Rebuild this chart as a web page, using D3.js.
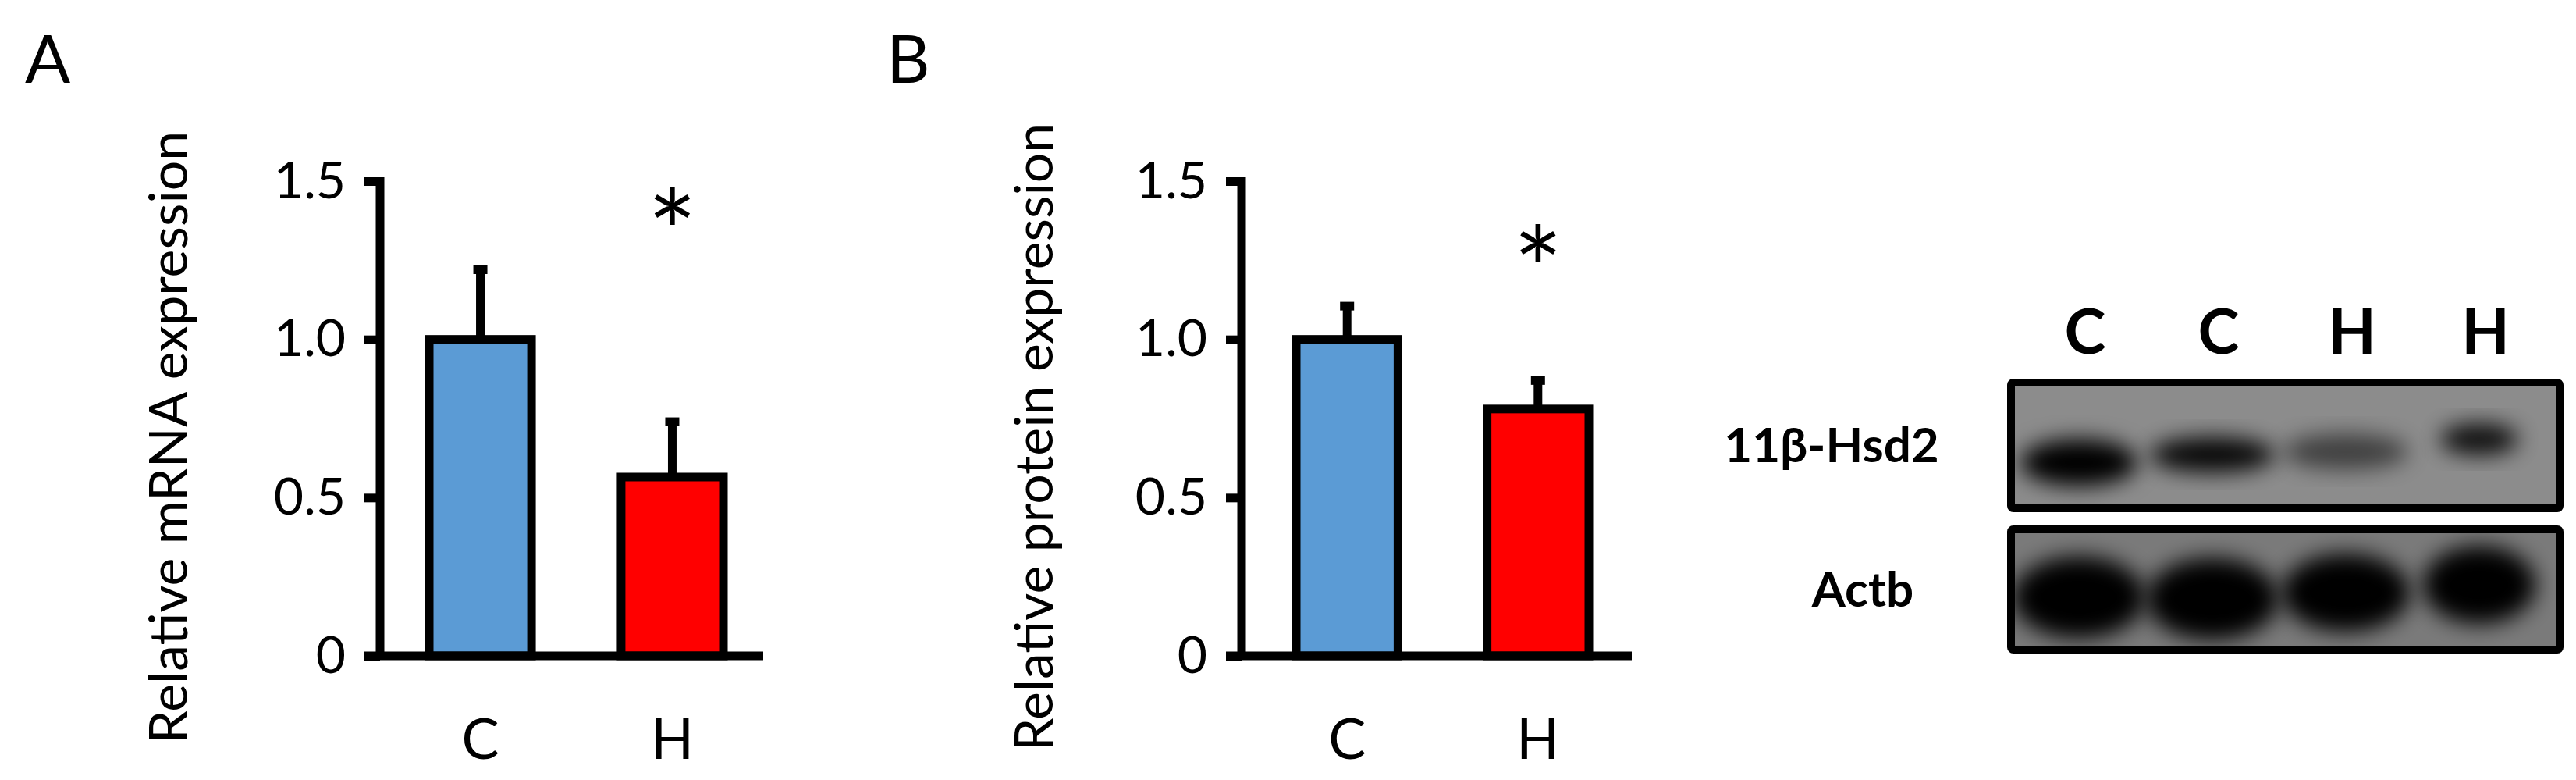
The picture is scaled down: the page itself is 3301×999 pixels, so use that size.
<!DOCTYPE html>
<html><head><meta charset="utf-8">
<script src="https://cdn.jsdelivr.net/npm/d3@7"></script>
<style>body{margin:0;background:#fff}text{font-family:Lato,"Open Sans",sans-serif}</style>
</head><body>
<svg id="c" width="3301" height="999"></svg>
<script>
var categories = ["C", "H"];
var mrnaMean = [1.0, 0.565];
var mrnaErr = [0.22, 0.175];
var proteinMean = [1.0, 0.78];
var proteinErr = [0.105, 0.09];
var significant = [false, true];
var yTicks = [0, 0.5, 1.0, 1.5];
var tickLabels = ["0", "0.5", "1.0", "1.5"];
var barColors = ["#5b9bd5", "#ff0000"];
var laneLabels = ["C", "C", "H", "H"];
// band darkness / size
var hsdBands = [{dy: 22, w: 150, h: 60, o: 1.0}, {dy: 12, w: 160, h: 45, o: 0.95}, {dy: 8, w: 160, h: 45, o: 0.55}, {dy: -8, w: 100, h: 40, o: 0.9}];
var actbBands = [{dy: 10, w: 170, h: 105, o: 1}, {dy: 12, w: 170, h: 105, o: 1}, {dy: 4, w: 165, h: 100, o: 1}, {dy: -6, w: 145, h: 100, o: 1}];

var svg = d3.select('#c');
var defs = svg.append('defs');
defs.append('filter').attr('id', 'blur').attr('x', '-50%').attr('y', '-50%').attr('width', '200%').attr('height', '200%')
	.append('feGaussianBlur').attr('stdDeviation', 14);

function panel(opt) {
	var g = svg.append('g');
	var y = d3.scaleLinear().domain([0, 1.5]).range([840, 232]);
	var x = d3.scaleBand().domain(categories).range([opt.b0, opt.b1]).paddingInner(0.467).paddingOuter(0);

	g.append('text').attr('x', opt.x0 - 455).attr('y', 106).attr('font-size', 86).text(opt.letter);

	var bars = g.selectAll('.b').data(categories).enter();
	bars.append('line')
		.attr('x1', function(d) { return x(d) + x.bandwidth() / 2; })
		.attr('x2', function(d) { return x(d) + x.bandwidth() / 2; })
		.attr('y1', function(d, i) { return y(opt.mean[i]); })
		.attr('y2', function(d, i) { return y(opt.mean[i] + opt.err[i]); })
		.attr('stroke', '#000').attr('stroke-width', 11);
	bars.append('line')
		.attr('x1', function(d) { return x(d) + x.bandwidth() / 2 - 9; })
		.attr('x2', function(d) { return x(d) + x.bandwidth() / 2 + 9; })
		.attr('y1', function(d, i) { return y(opt.mean[i] + opt.err[i]); })
		.attr('y2', function(d, i) { return y(opt.mean[i] + opt.err[i]); })
		.attr('stroke', '#000').attr('stroke-width', 11);
	bars.append('rect')
		.attr('x', function(d) { return x(d); })
		.attr('width', x.bandwidth())
		.attr('y', function(d, i) { return y(opt.mean[i]); })
		.attr('height', function(d, i) { return y(0) - y(opt.mean[i]); })
		.attr('fill', function(d, i) { return barColors[i]; })
		.attr('stroke', '#000').attr('stroke-width', 11);
	bars.filter(function(d, i) { return significant[i]; }).append('text')
		.attr('x', function(d) { return x(d) + x.bandwidth() / 2; })
		.attr('y', function(d, i) { return y(opt.mean[i] + opt.err[i]) + 8; })
		.attr('text-anchor', 'middle').attr('font-size', 150)
		.text('*');
	bars.append('text')
		.attr('x', function(d) { return x(d) + x.bandwidth() / 2; })
		.attr('y', 972).attr('text-anchor', 'middle').attr('font-size', 72)
		.text(function(d) { return d; });

	var ax = d3.axisLeft(y).tickValues(yTicks).tickSize(20).tickPadding(24)
		.tickFormat(function(d, i) { return tickLabels[i]; });
	var ag = g.append('g').attr('transform', 'translate(' + opt.x0 + ',0)').call(ax);
	ag.select('.domain').attr('stroke-width', 11).attr('d', 'M0,' + (y(1.5) - 5) + 'V' + y(0));
	ag.selectAll('.tick line').attr('stroke-width', 11);
	ag.selectAll('.tick text').attr('font-size', 66).attr('font-family', 'Lato, sans-serif');
	g.append('line').attr('x1', opt.x0 - 20).attr('x2', opt.x1).attr('y1', y(0)).attr('y2', y(0))
		.attr('stroke', '#000').attr('stroke-width', 11);

	g.append('text').attr('transform', 'translate(' + (opt.labelX) + ',' + 560 + ') rotate(-90)')
		.attr('text-anchor', 'middle').attr('font-size', 68).attr('dy', '0.35em')
		.text(opt.label);
}

panel({x0: 487, x1: 978, b0: 550, b1: 927, letter: 'A', mean: mrnaMean, err: mrnaErr, label: 'Relative mRNA expression', labelX: 216});
panel({x0: 1591, x1: 2091, b0: 1661, b1: 2036, letter: 'B', mean: proteinMean, err: proteinErr, label: 'Relative protein expression', labelX: 1325});

// western blot
var lx = d3.scalePoint().domain(d3.range(laneLabels.length)).range([2672, 3185]);
var blot = svg.append('g');
blot.selectAll('.lane').data(laneLabels).enter().append('text')
	.attr('x', function(d, i) { return lx(i); }).attr('y', 453)
	.attr('text-anchor', 'middle').attr('font-size', 80).attr('font-weight', 'bold')
	.text(function(d) { return d; });

function box(y0, y1, bg, bands, label, lxPos) {
	var bgId = 'clip' + y0;
	blot.append('clipPath').attr('id', bgId).append('rect')
		.attr('x', 2577).attr('y', y0).attr('width', 703).attr('height', y1 - y0);
	blot.append('rect').attr('x', 2577).attr('y', y0).attr('width', 703).attr('height', y1 - y0).attr('fill', bg);
	blot.append('g').attr('clip-path', 'url(#' + bgId + ')').selectAll('ellipse').data(bands).enter().append('ellipse')
		.attr('cx', function(d, i) { return lx(i) - 8; })
		.attr('cy', function(d) { return (y0 + y1) / 2 + d.dy; })
		.attr('rx', function(d) { return d.w / 2; })
		.attr('ry', function(d) { return d.h / 2; })
		.attr('fill', '#000').attr('opacity', function(d) { return d.o; })
		.attr('filter', 'url(#blur)');
	blot.append('rect').attr('x', 2577).attr('y', y0).attr('width', 703).attr('height', y1 - y0)
		.attr('fill', 'none').attr('stroke', '#000').attr('stroke-width', 10).attr('rx', 3);
	blot.append('text').attr('x', lxPos).attr('y', (y0 + y1) / 2).attr('dy', '0.35em')
		.attr('text-anchor', 'middle').attr('font-size', 62).attr('font-weight', 'bold').text(label);
}
box(490, 651, '#8c8c8c', hsdBands, '11β-Hsd2', 2347);
box(678, 832, '#7a7a7a', actbBands, 'Actb', 2387);
</script>
</body></html>
